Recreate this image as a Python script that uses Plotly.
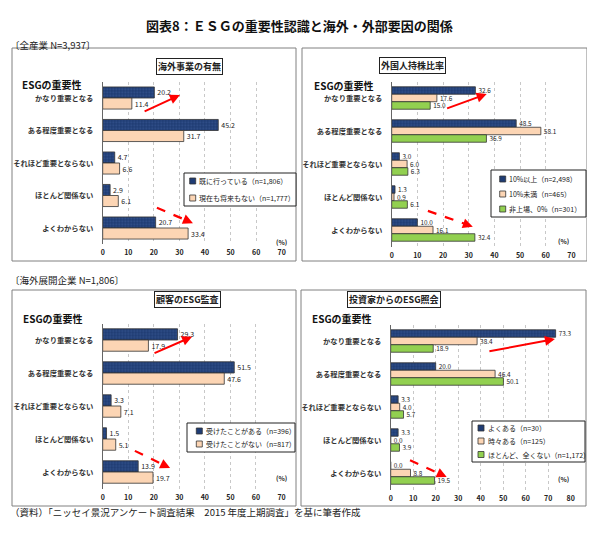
import plotly.graph_objects as go

# The page adds an 8px body margin, so the figure is drawn 8px smaller and all
# pixel positions below are given in window pixels and shifted by that margin.
PAGE_W, PAGE_H, OFF = 595, 533, 8
W, H = PAGE_W - OFF, PAGE_H - OFF
FONT = "Noto Sans CJK JP"

categories = ["かなり重要となる", "ある程度重要となる", "それほど重要とならない", "ほとんど関係ない", "よくわからない"]

# Panel 1: 海外事業の有無
p1_names = ["既に行っている（n=1,806）", "現在も将来もない（n=1,777）"]
p1_yes = [20.2, 45.2, 4.7, 2.9, 20.7]
p1_no = [11.4, 31.7, 6.6, 6.1, 33.4]

# Panel 2: 外国人持株比率
p2_names = ["10%以上（n=2,498）", "10%未満（n=465）", "非上場、0%（n=301）"]
p2_high = [32.6, 48.5, 3.0, 1.3, 10.0]
p2_low = [17.6, 58.1, 6.0, 0.9, 16.1]
p2_none = [15.0, 36.9, 6.3, 6.1, 32.4]

# Panel 3: 顧客のESG監査
p3_names = ["受けたことがある（n=396）", "受けたことがない（n=817）"]
p3_yes = [29.3, 51.5, 3.3, 1.5, 13.9]
p3_no = [17.9, 47.6, 7.1, 5.1, 19.7]

# Panel 4: 投資家からのESG照会
p4_names = ["よくある（n=30）", "時々ある（n=125）", "ほとんど、全くない（n=1,172）"]
p4_often = [73.3, 20.0, 3.3, 3.3, 0.0]
p4_some = [38.4, 46.4, 4.0, 0.0, 8.8]
p4_none = [18.9, 50.1, 5.7, 3.9, 19.5]

NAVY = "#1F3C74"
PEACH = "#FCD5B4"
GREEN = "#92D050"
LINE = "#333333"


def fx(px):
    return (px - OFF) / W


def fy(py):
    return 1 - (py - OFF) / H


fig = go.Figure()


def add_bar(vals, name, color, idx, tsize, pattern=False):
    ax = "" if idx == 1 else str(idx)
    marker = dict(color=color, line=dict(color=LINE, width=0.8))
    if pattern:
        marker["pattern"] = dict(shape=".", fgcolor="#4A6AA8", bgcolor=color, size=3, solidity=0.3)
    fig.add_trace(go.Bar(
        x=vals, y=categories, orientation="h", name=name,
        marker=marker,
        text=[f"{v:.1f}" for v in vals], textposition="outside",
        constraintext="none",
        textfont=dict(size=tsize, color="#222222", family=FONT),
        cliponaxis=False, showlegend=False,
        xaxis="x" + ax, yaxis="y" + ax,
    ))


add_bar(p1_yes, p1_names[0], NAVY, 1, 7, True)
add_bar(p1_no, p1_names[1], PEACH, 1, 7)
add_bar(p2_high, p2_names[0], NAVY, 2, 6.4, True)
add_bar(p2_low, p2_names[1], PEACH, 2, 6.4)
add_bar(p2_none, p2_names[2], GREEN, 2, 6.4)
add_bar(p3_yes, p3_names[0], NAVY, 3, 7, True)
add_bar(p3_no, p3_names[1], PEACH, 3, 7)
add_bar(p4_often, p4_names[0], NAVY, 4, 6.4, True)
add_bar(p4_some, p4_names[1], PEACH, 4, 6.4)
add_bar(p4_none, p4_names[2], GREEN, 4, 6.4)

# axis layout (pixel geometry)
panels = {
    1: dict(x0=102.7, x1=281.7, yt=81.75, yb=244.25, xmax=70),
    2: dict(x0=391.7, x1=571.4, yt=81.5, yb=246.5, xmax=70),
    3: dict(x0=102.7, x1=281.5, yt=323.5, yb=488.5, xmax=70),
    4: dict(x0=390.7, x1=570.7, yt=324.5, yb=489.5, xmax=80),
}

layout_axes = {}
for i, p in panels.items():
    sfx = "" if i == 1 else str(i)
    layout_axes["xaxis" + sfx] = dict(
        domain=[fx(p["x0"]), fx(p["x1"])], range=[0, p["xmax"]],
        anchor="y" + sfx, dtick=10, showgrid=True, gridcolor="#C8C8C8",
        griddash="dot", gridwidth=1, zeroline=False, showline=False,
        ticks="", ticklabelstandoff=3, automargin=False,
        tickfont=dict(size=7, color="#222222", family=FONT, weight="bold"),
        fixedrange=True,
    )
    layout_axes["yaxis" + sfx] = dict(
        domain=[fy(p["yb"]), fy(p["yt"])], anchor="x" + sfx,
        type="category", categoryorder="array", categoryarray=categories,
        range=[4.5, -0.5], showline=True, linecolor="#666666", linewidth=1,
        ticks="", ticklabelstandoff=7, automargin=False,
        tickfont=dict(size=7.3, color="#333333", family=FONT, weight="bold"),
        showgrid=False, fixedrange=True,
    )

annotations = []
shapes = []

# titles and texts
annotations.append(dict(text="図表8：ＥＳＧの重要性認識と海外・外部要因の関係", x=fx(299), y=fy(14),
                        xref="paper", yref="paper", showarrow=False,
                        font=dict(size=13, family=FONT, color="#111111", weight="bold")))
annotations.append(dict(text="〔全産業 N=3,937〕", x=fx(8), y=fy(36), xanchor="left",
                        xref="paper", yref="paper", showarrow=False,
                        font=dict(size=9.5, family=FONT, color="#222222")))
annotations.append(dict(text="〔海外展開企業 N=1,806〕", x=fx(8), y=fy(280), xanchor="left",
                        xref="paper", yref="paper", showarrow=False,
                        font=dict(size=9.5, family=FONT, color="#222222")))
annotations.append(dict(text="（資料）「ニッセイ景況アンケート調査結果　2015 年度上期調査」を基に筆者作成",
                        x=fx(8), y=fy(521), xanchor="left",
                        xref="paper", yref="paper", showarrow=False,
                        font=dict(size=9.5, family=FONT, color="#222222")))

# panel boxes
boxes = [(12, 48, 296, 261), (302, 48, 587, 261), (12, 290, 296, 506), (301, 290, 586, 506)]
for (x0, y0, x1, y1) in boxes:
    shapes.append(dict(type="rect", xref="paper", yref="paper",
                       x0=fx(x0), x1=fx(x1), y0=fy(y0), y1=fy(y1),
                       line=dict(color="#808080", width=1)))

panel_titles = [("海外事業の有無", 156, 58), ("外国人持株比率", 446, 57),
                ("顧客のESG監査", 154, 299), ("投資家からのESG照会", 441, 299)]
for t, x, y in panel_titles:
    annotations.append(dict(text=t, x=fx(x), y=fy(y), xref="paper", yref="paper",
                            showarrow=False, bordercolor="#222222", borderwidth=1,
                            borderpad=1, bgcolor="white",
                            font=dict(size=9, family=FONT, color="#222222", weight="bold")))

esg_labels = [(20, 75), (312, 76), (21, 318), (310, 318)]
for x, y in esg_labels:
    annotations.append(dict(text="ESGの重要性", x=fx(x), y=fy(y), xanchor="left",
                            xref="paper", yref="paper", showarrow=False,
                            font=dict(size=10, family=FONT, color="#111111", weight="bold")))

pct_labels = [(281, 242), (571, 241), (281, 485), (571, 486)]
for x, y in pct_labels:
    annotations.append(dict(text="(%)", x=fx(x), y=fy(y), xref="paper", yref="paper",
                            showarrow=False,
                            font=dict(size=6.5, family=FONT, color="#222222", weight="bold")))

# legends drawn manually: box (x0, y0, x1, y1), marker x, text x, item ys, names, colors
legends = [
    ((184, 173, 296, 206), 192.7, 197, [181, 198], p1_names, [NAVY, PEACH]),
    ((491, 170, 586, 217), 502.7, 507, [179, 194, 209], p2_names, [NAVY, PEACH, GREEN]),
    ((187, 423, 295, 452), 199.3, 203.5, [431, 444], p3_names, [NAVY, PEACH]),
    ((472, 421, 585, 462), 481, 485.5, [428, 441, 454.5], p4_names, [NAVY, PEACH, GREEN]),
]
for (bx0, by0, bx1, by1), mx, tx, ys, names, cols in legends:
    shapes.append(dict(type="rect", xref="paper", yref="paper",
                       x0=fx(bx0), x1=fx(bx1), y0=fy(by0), y1=fy(by1),
                       fillcolor="white", line=dict(color="#222222", width=1), layer="above"))
    for yy, nm, c in zip(ys, names, cols):
        shapes.append(dict(type="rect", xref="paper", yref="paper",
                           x0=fx(mx - 3), x1=fx(mx + 3), y0=fy(yy + 3), y1=fy(yy - 3),
                           fillcolor=c, line=dict(color=LINE, width=0.8), layer="above"))
        annotations.append(dict(text=nm, x=fx(tx), y=fy(yy), xanchor="left", yanchor="middle",
                                xref="paper", yref="paper", showarrow=False,
                                font=dict(size=7, family=FONT, color="#222222")))

# arrows (axis data coordinates): (panel, tail_x, tail_y, head_x, head_y, dashed)
arrows = [
    (1, 15.8, 0.43, 30.2, -0.09, False),
    (1, 21.2, 3.38, 35.3, 3.85, True),
    (2, 21.0, 0.33, 37.0, -0.12, False),
    (2, 14.1, 3.42, 31.6, 3.90, True),
    (3, 19.7, 0.42, 35.0, -0.10, False),
    (3, 12.6, 3.36, 26.4, 3.88, True),
    (4, 43.2, 0.32, 73.0, -0.06, False),
    (4, 8.6, 3.61, 24.9, 4.12, True),
]
for (i, tx, ty, hx, hy, dashed) in arrows:
    sfx = "" if i == 1 else str(i)
    if dashed:
        fr = 0.85
        mx, my = tx + (hx - tx) * fr, ty + (hy - ty) * fr
        shapes.append(dict(type="line", xref="x" + sfx, yref="y" + sfx,
                           x0=tx, y0=ty, x1=mx, y1=my,
                           line=dict(color="#FF0000", width=2.2, dash="dash")))
        annotations.append(dict(x=hx, y=hy, ax=mx, ay=my, xref="x" + sfx, yref="y" + sfx,
                                axref="x" + sfx, ayref="y" + sfx, text="", showarrow=True,
                                arrowhead=2, arrowsize=1, arrowwidth=2, arrowcolor="#FF0000"))
    else:
        annotations.append(dict(x=hx, y=hy, ax=tx, ay=ty, xref="x" + sfx, yref="y" + sfx,
                                axref="x" + sfx, ayref="y" + sfx, text="", showarrow=True,
                                arrowhead=2, arrowsize=1, arrowwidth=2, arrowcolor="#FF0000"))

fig.update_layout(
    width=W, height=H, margin=dict(l=0, r=0, t=0, b=0, autoexpand=False),
    paper_bgcolor="white", plot_bgcolor="white",
    barmode="group", bargap=0.32, bargroupgap=0,
    font=dict(family=FONT),
    showlegend=False,
    annotations=annotations, shapes=shapes,
    **layout_axes,
)

fig.write_html("out.html")
